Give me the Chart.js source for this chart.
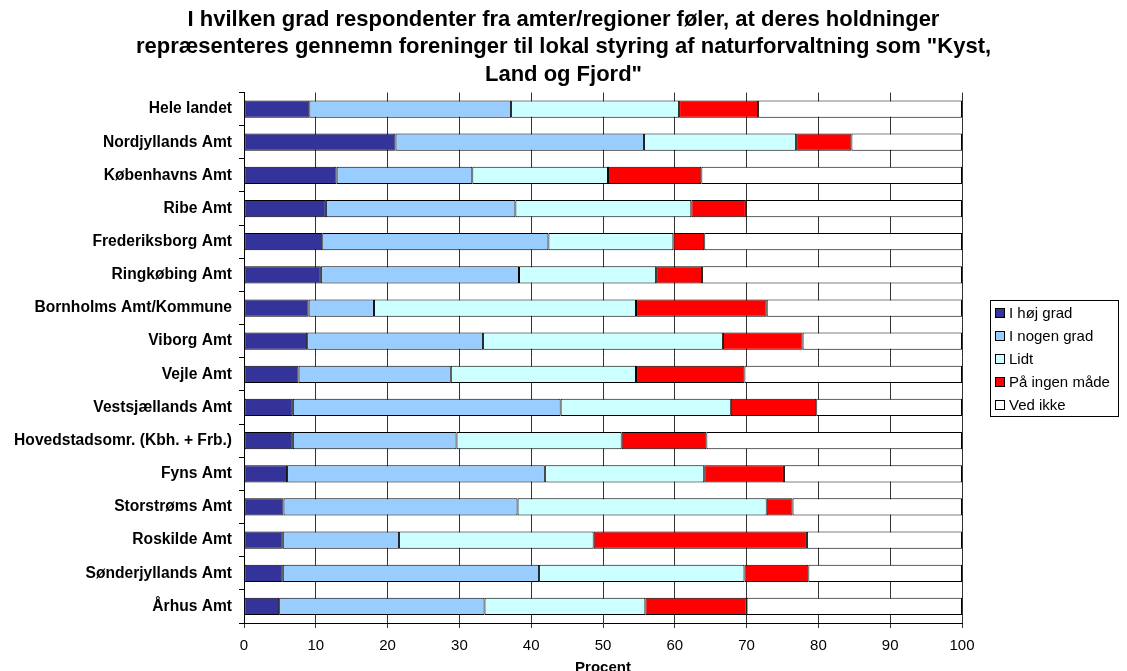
<!DOCTYPE html>
<html>
<head>
<meta charset="utf-8">
<title>Lokal styring af naturforvaltning</title>
<script src="https://cdn.jsdelivr.net/npm/chart.js@4.4.1/dist/chart.umd.min.js"></script>
<style>
    html, body { margin: 0; padding: 0; background: #fff; }
    #wrap { width: 1127px; height: 671px; }
</style>
</head>
<body>
<div id="wrap"><canvas id="chartGrad" width="1127" height="671"></canvas></div>
<script>
const regioner = [
    "Hele landet", "Nordjyllands Amt", "Københavns Amt", "Ribe Amt", "Frederiksborg Amt",
    "Ringkøbing Amt", "Bornholms Amt/Kommune", "Viborg Amt", "Vejle Amt", "Vestsjællands Amt",
    "Hovedstadsomr. (Kbh. + Frb.)", "Fyns Amt", "Storstrøms Amt", "Roskilde Amt",
    "Sønderjyllands Amt", "Århus Amt"
];

const hoejGrad   = [9.1, 21.1, 12.9, 11.4, 10.9, 10.7, 9.0, 8.8, 7.6, 6.8, 6.8, 6.0, 5.5, 5.4, 5.4, 4.9];
const nogenGrad  = [28.1, 34.6, 18.9, 26.4, 31.5, 27.6, 9.1, 24.5, 21.2, 37.3, 22.8, 35.9, 32.6, 16.2, 35.7, 28.6];
const lidt       = [23.4, 21.2, 18.9, 24.5, 17.4, 19.1, 36.5, 33.4, 25.8, 23.7, 23.0, 22.2, 34.7, 27.1, 28.6, 22.4];
const ingenMaade = [11.0, 7.7, 13.0, 7.6, 4.3, 6.4, 18.2, 11.1, 15.1, 11.9, 11.8, 11.1, 3.6, 29.7, 8.9, 14.1];
const vedIkke    = [28.4, 15.4, 36.3, 30.1, 35.9, 36.2, 27.2, 22.2, 30.3, 20.3, 35.6, 24.8, 23.6, 21.6, 21.4, 30.0];

const serieNavne = ["I høj grad", "I nogen grad", "Lidt", "På ingen måde", "Ved ikke"];
const xTicks = [0, 10, 20, 30, 40, 50, 60, 70, 80, 90, 100];

const titel = [
    "I hvilken grad respondenter fra amter/regioner føler, at deres holdninger",
    "repræsenteres gennemn foreninger til lokal styring af naturforvaltning som \"Kyst,",
    "Land og Fjord\""
];

const FONT = "'Liberation Sans', Arial, Helvetica, sans-serif";
const farver = ["#333399", "#99CCFF", "#CCFFFF", "#FF0000", "#FFFFFF"];

// legend drawn as an Excel style box to the right of the plot
const boxLegend = {
    id: "boxLegend",
    afterDraw(chart) {
        const ctx = chart.ctx;
        const x0 = 990, y0 = 300, w = 128, h = 116;
        ctx.save();
        ctx.strokeStyle = "#000";
        ctx.lineWidth = 1;
        ctx.strokeRect(x0 + 0.5, y0 + 0.5, w, h);
        ctx.font = "15px " + FONT;
        ctx.textBaseline = "middle";
        chart.data.datasets.forEach((ds, i) => {
            const cy = 313 + i * 23;
            ctx.fillStyle = ds.backgroundColor;
            ctx.fillRect(995.5, cy - 4.5, 9, 9);
            ctx.strokeRect(995.5, cy - 4.5, 9, 9);
            ctx.fillStyle = "#000";
            ctx.fillText(ds.label, 1009, cy + 0.5);
        });
        ctx.restore();
    }
};

function lavDatasets() {
    const serier = [hoejGrad, nogenGrad, lidt, ingenMaade, vedIkke];
    return serier.map((data, i) => ({
        label: serieNavne[i],
        data: data,
        backgroundColor: farver[i],
        borderColor: "#000",
        borderWidth: 1,
        borderSkipped: false,
        barPercentage: 0.52,
        categoryPercentage: 1.0
    }));
}

document.addEventListener("DOMContentLoaded", function() {
    Chart.defaults.font.family = FONT;
    Chart.defaults.color = "#000";

    new Chart(document.getElementById("chartGrad"), {
        type: "bar",
        data: { labels: regioner, datasets: lavDatasets() },
        plugins: [boxLegend],
        options: {
            indexAxis: "y",
            responsive: false,
            animation: false,
            layout: { padding: 0 },
            plugins: {
                legend: { display: false },
                tooltip: { enabled: false },
                title: {
                    display: true,
                    text: titel,
                    font: { size: 22, weight: "bold", lineHeight: 1.25 },
                    padding: { top: 6, bottom: 4 }
                }
            },
            scales: {
                x: {
                    stacked: true,
                    min: 0,
                    max: 100,
                    afterBuildTicks: s => { s.ticks = xTicks.map(v => ({ value: v })); },
                    afterFit: s => { s.height = 48; },
                    ticks: { font: { size: 15 }, padding: 9, maxRotation: 0 },
                    grid: { color: "#333", lineWidth: 1, tickLength: 5, drawTicks: true },
                    border: { color: "#000", width: 1 },
                    title: {
                        display: true,
                        text: "Procent",
                        font: { size: 15, weight: "bold", lineHeight: 1.2 },
                        padding: { top: 0, bottom: -6 }
                    }
                },
                y: {
                    stacked: true,
                    afterFit: s => { s.width = 244; },
                    ticks: { font: { size: 15.6, weight: "bold" }, padding: 7 },
                    grid: { drawOnChartArea: false, drawTicks: true, tickLength: 5, color: "#000" },
                    border: { color: "#000", width: 1 }
                },
                plads: {
                    type: "linear",
                    position: "right",
                    display: true,
                    ticks: { display: false },
                    grid: { display: false },
                    border: { display: false },
                    afterFit: s => { s.width = 165; }
                }
            }
        }
    });
});
</script>
</body>
</html>
